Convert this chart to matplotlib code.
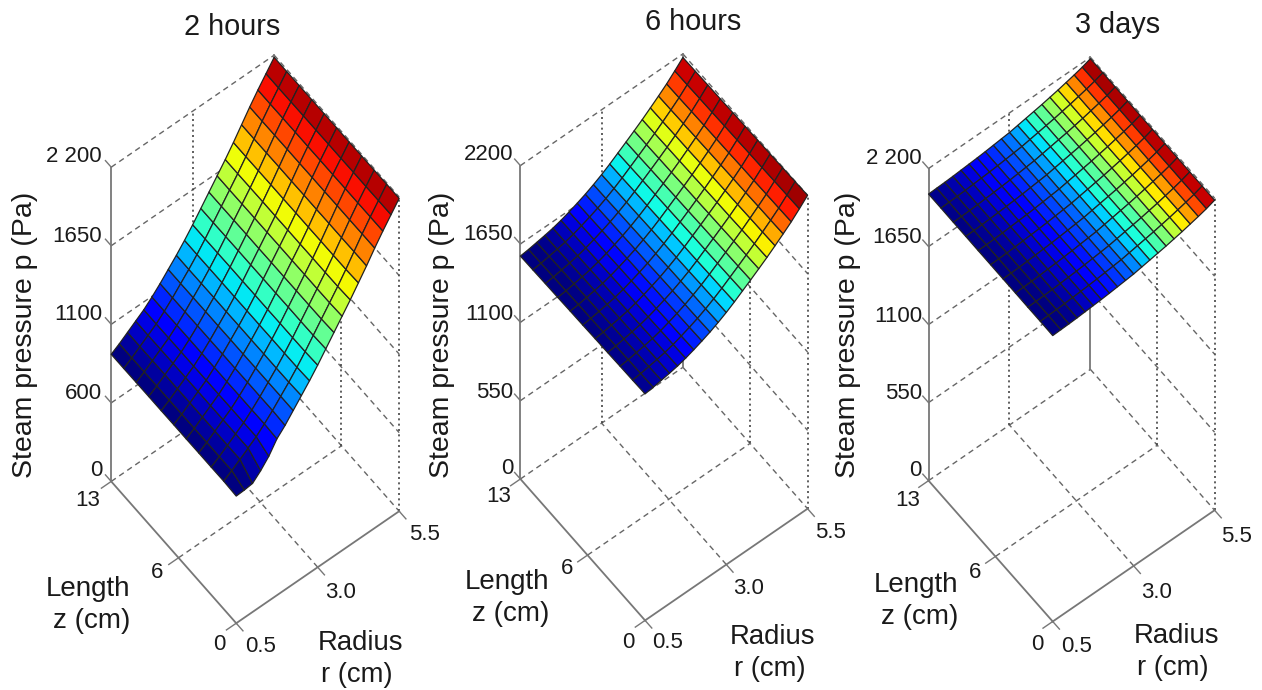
import numpy as np
import matplotlib
matplotlib.use("Agg")
import matplotlib.pyplot as plt
from mpl_toolkits.mplot3d import proj3d

plt.rcParams["font.family"] = ["Liberation Sans", "DejaVu Sans"]

# mesh of the surfaces
r_grid = np.linspace(0.5, 5.5, 21)
z_grid = np.linspace(0, 13, 11)

# pressure along r (read at the z = 13 edge), Pa
p_2h = [890, 925, 965, 1005, 1045, 1095, 1150, 1210, 1270, 1335, 1405,
        1480, 1555, 1630, 1705, 1785, 1870, 1955, 2035, 2110, 2185]
p_6h = [1565, 1572, 1582, 1592, 1604, 1620, 1640, 1662, 1686, 1714, 1745,
        1780, 1818, 1856, 1895, 1935, 1978, 2022, 2068, 2120, 2175]
p_3d = [2020, 2022, 2024, 2027, 2031, 2035, 2039, 2044, 2050, 2056, 2062,
        2072, 2082, 2092, 2102, 2114, 2126, 2140, 2154, 2170, 2190]

# change of pressure along z, from z = 0 to z = 13
dz_2h = [5, 5, 4, 4, 3, 3, 2, 2, 1, 0, 0]
dz_6h = [25, 22, 20, 17, 15, 12, 10, 7, 5, 2, 0]
dz_3d = [-5, -4, -4, -3, -3, -2, -2, -1, -1, 0, 0]

# the z = 0 row of the 2 hours surface stays flat near the axis
front_2h = [890, 893, 900, 950, 1012, 1095, 1150, 1215, 1280, 1345, 1415,
            1490, 1565, 1640, 1715, 1795, 1875, 1960, 2040, 2115, 2190]

# top of the colour scale of each surface
cmax = [2215, 2190, 2186]

titles = ["2 hours", "6 hours", "3 days"]
r_ticks = [0.5, 3.0, 5.5]
z_ticks = [0, 6, 13]
p_ticks = [0, 550, 1100, 1650, 2200]

W, H = 1262, 690
fig = plt.figure(figsize=(W / 100, H / 100), dpi=100, facecolor="white")


def surface(profile, dz, front=None):
    p = np.add.outer(np.array(dz, float), np.array(profile, float))
    if front is not None:
        p[0] = front
    return p


def project(ax, r, z, p):
    u, v, _ = proj3d.proj_transform(r, z, p, ax.get_proj())
    return ax.transData.transform((u, v))


def place(ax, corners):
    # shift and scale the square axes so the box lands on the wanted pixels
    pts = [(5.5, 0, 0), (0.5, 13, 0), (0.5, 0, 0), (5.5, 0, 2200), (0.5, 13, 2200)]
    want = np.array([(x, H - y) for x, y in corners], float)
    side, cx, cy = 500.0, want[:, 0].mean(), want[:, 1].mean()
    for _ in range(3):
        ax.set_position([(cx - side / 2) / W, (cy - side / 2) / H, side / W, side / H])
        ax.apply_aspect()
        got = np.array([project(ax, *q) for q in pts])
        k = np.ptp(want, axis=0).sum() / np.ptp(got, axis=0).sum()
        side *= k
        off = want.mean(axis=0) - (got.mean(axis=0) - np.array([cx, cy])) * k
        cx, cy = off


def draw_panel(p, top, corners):
    ax = fig.add_axes([0, 0, 0.4, 0.4], projection="3d", proj_type="ortho")
    ax.computed_zorder = False
    ax.patch.set_alpha(0)
    ax.set_axis_off()
    ax.set_xlim(0.5, 5.5)
    ax.set_ylim(0, 13)
    ax.set_zlim(0, 2200)
    ax.set_box_aspect((207, 204, 671), zoom=1)
    ax.view_init(elev=62, azim=-127.9)
    ax.margins(0)

    dash = dict(color="#666666", lw=1.0, ls=(0, (4, 3)), zorder=1)
    dots = dict(color="#444444", lw=1.2, ls=(0, (1.2, 2)), zorder=1)
    axis = dict(color="#777777", lw=1.3, zorder=1.5)
    tick = dict(color="#777777", lw=1.0, zorder=1.5)

    # back walls
    for t in p_ticks:
        ax.plot([0.5, 5.5], [13, 13], [t, t], **dash)
        ax.plot([5.5, 5.5], [13, 0], [t, t], **dash)
        ax.plot([0.5, 0.5], [13, 13.6], [t, t], **tick)
    ax.plot([3.0, 3.0], [13, 13], [0, 2200], **dots)
    ax.plot([5.5, 5.5], [6, 6], [0, 2200], **dots)
    ax.plot([5.5, 5.5], [0, 0], [0, 2200], **dots)

    # floor
    ax.plot([3.0, 3.0], [0, 13], [0, 0], **dash)
    ax.plot([0.5, 5.5], [6, 6], [0, 0], **dash)

    # solid axes
    ax.plot([0.5, 0.5], [0, 13], [0, 0], **axis)
    ax.plot([0.5, 5.5], [0, 0], [0, 0], **axis)
    ax.plot([0.5, 0.5], [13, 13], [0, 2200], **axis)
    ax.plot([5.5, 5.5], [13, 13], [0, 2200], **axis)
    for t in z_ticks:
        ax.plot([0.5, 0.2], [t, t], [0, 0], **tick)
    for t in r_ticks:
        ax.plot([t, t], [0, -0.7], [0, 0], **tick)

    R, Z = np.meshgrid(r_grid, z_grid)
    ax.plot_surface(R, Z, p, rstride=1, cstride=1, cmap="jet",
                    vmin=p[:, :2].mean(), vmax=top,
                    edgecolor="#222222", linewidth=0.9, shade=False, antialiased=True, zorder=2)
    place(ax, corners)
    return ax


def label(x, y, s, size, ha="center", rotation=0):
    fig.text(x / W, 1 - y / H, s, fontsize=size, ha=ha, va="center", rotation=rotation,
             color="#1a1a1a")


panels = [
    (surface(p_2h, dz_2h, front_2h), [(398, 513), (112, 482), (237, 623), (398, 197), (112, 165)]),
    (surface(p_6h, dz_6h), [(806, 511), (522, 478), (645, 621), (806, 196), (522, 163)]),
    (surface(p_3d, dz_3d), [(1212, 513), (931, 481), (1053, 623), (1212, 197), (931, 165)]),
]
for (p, corners), top in zip(panels, cmax):
    draw_panel(p, top, corners)

# titles
for x, y, s in zip([232, 693, 1118], [27, 22, 25], titles):
    label(x, y, s, 20.8)

# pressure axis
for y, s in zip([157, 237, 314, 393, 471], ["2 200", "1650", "1100", "600", "0"]):
    label(102, y, s, 16, ha="right")
for y, s in zip([155, 235, 314, 392, 468], ["2200", "1650", "1100", "550", "0"]):
    label(513, y, s, 16, ha="right")
for y, s in zip([158, 238, 317, 393, 471], ["2 200", "1650", "1100", "550", "0"]):
    label(922, y, s, 16, ha="right")

# length and radius ticks
tick_text = ["13", "6", "0", "0.5", "3.0", "5.5"]
tick_x = [[88, 157, 219, 261, 341, 425], [499, 567, 628, 668, 749, 830], [908, 975, 1037, 1077, 1157, 1237]]
tick_y = [[500, 572, 644, 646, 592, 535], [497, 569, 642, 643, 589, 533], [501, 572, 644, 647, 592, 536]]
for xs, ys in zip(tick_x, tick_y):
    for x, y, s in zip(xs, ys, tick_text):
        label(x, y, s, 16)

# axis names
for x in [25, 442, 848]:
    label(x, 335, "Steam pressure p (Pa)", 20.5, rotation=90)
for x, y in zip([88, 507, 916], [589, 582, 585]):
    label(x, y, "Length", 20)
    label(x + 4, y + 32, "z (cm)", 20)
for x, y in zip([360, 773, 1176], [643, 637, 636]):
    label(x, y, "Radius", 19.8)
    label(x - 3, y + 32, "r (cm)", 19.8)

fig.savefig("out.png", dpi=100)
